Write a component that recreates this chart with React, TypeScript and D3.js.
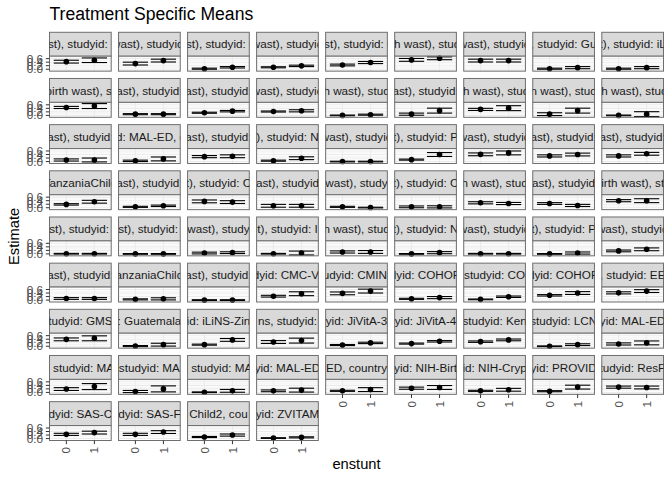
import * as d3 from 'd3';

// facet strip labels (what is visible inside each clipped strip)
const stripLabels = [
  'ast), studyid: C', 'wast), studyid:', 'ast), studyid: C', 'wast), studyid', 'ast), studyid: C', 'th wast), stud', 'wast), studyid', ', studyid: Gu', 't), studyid: iL',
  'birth wast), st', 'ast), studyid: ', 'ast), studyid: ', 'wast), studyid', 'h wast), stud', 'ast), studyid: ', 'th wast), stud', 'n wast), stud', 'th wast), stud',
  'ast), studyid: ', 'id: MAL-ED, c', 'ast), studyid: ', '), studyid: N', 'wast), studyid', 't), studyid: P', 'wast), studyid', 'ast), studyid:', 'ast), studyid:',
  'TanzaniaChild', 'ast), studyid: ', 't), studyid: C', 'ast), studyid', 'wast), study', 't), studyid: C', 'h wast), stud', 'ast), studyid', 'irth wast), st',
  'ast), studyid: J', 'ast), studyid: J', 'wast), study', 't), studyid: I', 'n wast), stud', 't), studyid: N', 'wast), studyid', 't), studyid: P', 'wast), studyid',
  'ast), studyid:', 'anzaniaChild', 'ast), studyid: ', 'dyid: CMC-V-', 'udyid: CMIN,', 'dyid: COHOR', 'studyid: CO', 'dyid: COHOR', ', studyid: EE',
  'tudyid: GMS', ': Guatemala', 'id: iLiNS-Zin', 'ns, studyid:', 'yid: JiVitA-3', 'yid: JiVitA-4', 'studyid: Ken', 'studyid: LCN', 'yid: MAL-ED',
  ', studyid: MA', 'studyid: MA', ', studyid: MA', 'yid: MAL-ED', 'ED, country', 'yid: NIH-Birt', 'id: NIH-Cryp', 'yid: PROVID', 'tudyid: ResP',
  'dyid: SAS-C', 'dyid: SAS-F', 'Child2, cou', 'yid: ZVITAM',
];

const levels = ['0', '1'];

// estimates for enstunt = 0
const est0 = [
  0.43, 0.32, 0.03, 0.11, 0.24, 0.53, 0.49, 0.03, 0.03,
  0.45, 0.07, 0.15, 0.22, 0.0, 0.07, 0.34, 0.07, 0.0,
  0.09, 0.04, 0.28, 0.05, 0.0, 0.11, 0.41, 0.32, 0.32,
  0.19, 0.05, 0.36, 0.11, 0.05, 0.05, 0.28, 0.24, 0.4,
  0.01, 0.0, 0.05, 0.01, 0.11, 0.0, 0.01, 0.0, 0.17,
  0.09, 0.04, 0.0, 0.22, 0.38, 0.07, 0.04, 0.27, 0.41,
  0.39, 0.01, 0.09, 0.24, 0.07, 0.15, 0.26, 0.0, 0.13,
  0.19, 0.05, 0.01, 0.09, 0.09, 0.24, 0.09, 0.07, 0.3,
  0.24, 0.24, 0.09, 0.03,
];
// estimates for enstunt = 1
const est1 = [
  0.51, 0.49, 0.11, 0.19, 0.38, 0.62, 0.49, 0.09, 0.09,
  0.53, 0.07, 0.24, 0.26, 0.04, 0.27, 0.41, 0.27, 0.07,
  0.09, 0.15, 0.3, 0.19, 0.0, 0.4, 0.49, 0.4, 0.44,
  0.34, 0.11, 0.32, 0.11, 0.01, 0.05, 0.24, 0.13, 0.4,
  0.01, 0.0, 0.07, 0.05, 0.11, 0.07, 0.01, 0.05, 0.26,
  0.09, 0.07, 0.0, 0.36, 0.51, 0.14, 0.19, 0.4, 0.51,
  0.45, 0.09, 0.36, 0.32, 0.19, 0.28, 0.36, 0.09, 0.19,
  0.33, 0.2, 0.09, 0.13, 0.16, 0.28, 0.15, 0.3, 0.28,
  0.34, 0.37, 0.2, 0.07,
];
// CI half widths
const half0 = [
  0.08, 0.08, 0.03, 0.03, 0.05, 0.08, 0.08, 0.03, 0.03,
  0.06, 0.03, 0.03, 0.03, 0.02, 0.06, 0.06, 0.08, 0.02,
  0.06, 0.04, 0.06, 0.03, 0.02, 0.03, 0.08, 0.06, 0.06,
  0.04, 0.03, 0.08, 0.08, 0.03, 0.05, 0.06, 0.05, 0.06,
  0.02, 0.02, 0.05, 0.02, 0.06, 0.02, 0.02, 0.02, 0.05,
  0.05, 0.03, 0.02, 0.05, 0.08, 0.03, 0.02, 0.04, 0.06,
  0.08, 0.03, 0.03, 0.08, 0.03, 0.03, 0.04, 0.02, 0.06,
  0.08, 0.06, 0.02, 0.05, 0.03, 0.06, 0.03, 0.03, 0.06,
  0.06, 0.06, 0.03, 0.02,
];
const half1 = [
  0.13, 0.08, 0.04, 0.04, 0.06, 0.08, 0.08, 0.06, 0.06,
  0.14, 0.03, 0.04, 0.06, 0.03, 0.14, 0.14, 0.14, 0.14,
  0.11, 0.11, 0.08, 0.08, 0.02, 0.11, 0.11, 0.08, 0.08,
  0.08, 0.04, 0.08, 0.08, 0.02, 0.06, 0.06, 0.06, 0.11,
  0.02, 0.02, 0.05, 0.11, 0.08, 0.06, 0.02, 0.06, 0.08,
  0.05, 0.06, 0.02, 0.11, 0.11, 0.06, 0.04, 0.08, 0.08,
  0.14, 0.08, 0.08, 0.14, 0.04, 0.04, 0.05, 0.05, 0.11,
  0.17, 0.17, 0.08, 0.11, 0.11, 0.11, 0.08, 0.11, 0.08,
  0.08, 0.08, 0.06, 0.03,
];

const yTicks = [0, 0.2, 0.4, 0.6];

const W = 672;
const H = 480;
const FONT = '"Liberation Sans", Arial, Helvetica, sans-serif';
const nCol = 9;
const left = 49.5;
const right = 663.5;
const top = 32.3;
const bottom = 440.5;
const gap = 7.33;
const stripH = 23.9;

export default function App() {
  const n = stripLabels.length;
  const nRow = Math.ceil(n / nCol);
  const panelW = (right - left - gap * (nCol - 1)) / nCol;
  const cellH = (bottom - top - gap * (nRow - 1)) / nRow;
  const panelH = cellH - stripH;

  const rows = d3.range(n).map((i) => [
    { lv: 0, est: est0[i], lo: est0[i] - half0[i], hi: est0[i] + half0[i] },
    { lv: 1, est: est1[i], lo: est1[i] - half1[i], hi: est1[i] + half1[i] },
  ]);
  const all = rows.flat();
  const lo = d3.min(all, (d) => d.lo) ?? 0;
  const hi = d3.max(all, (d) => d.hi) ?? 1;
  const pad = (hi - lo) * 0.05;

  const x = d3.scaleLinear().domain([-0.6, levels.length - 1 + 0.6]).range([0, panelW]);
  const y = d3.scaleLinear().domain([lo - pad, hi + pad]).range([panelH, 0]);
  const minor = d3.range(-0.1, 0.8, 0.2).filter((v) => v > y.domain()[0] && v < y.domain()[1]);
  const capHalf = 0.45;

  return (
    <svg width={W} height={H} style={{ position: 'absolute', left: 0, top: 0, background: '#fff' }} fontFamily={FONT}>
      <text x={left} y={20} fontSize={17.6} fill="#000">
        Treatment Specific Means
      </text>
      <text
        transform={`translate(19,${(top + bottom) / 2}) rotate(-90)`}
        textAnchor="middle"
        fontSize={14.7}
        fill="#000"
      >
        Estimate
      </text>
      <text x={(left + right) / 2} y={469} textAnchor="middle" fontSize={14.7} fill="#000">
        enstunt
      </text>
      <defs>
        {stripLabels.map((_, i) => (
          <clipPath id={`strip-${i}`} key={i}>
            <rect x={0} y={0} width={panelW} height={stripH} />
          </clipPath>
        ))}
      </defs>
      {rows.map((pts, i) => {
        const c = i % nCol;
        const r = Math.floor(i / nCol);
        const px = left + c * (panelW + gap);
        const py = top + r * (cellH + gap);
        const isBottom = i + nCol >= n;
        return (
          <g key={i} transform={`translate(${px},${py})`}>
            {/* strip */}
            <rect x={0} y={0} width={panelW} height={stripH} fill="#D9D9D9" stroke="#6e6e6e" strokeWidth={1} />
            <g clipPath={`url(#strip-${i})`}>
              <text x={panelW / 2} y={stripH / 2} dy="0.35em" textAnchor="middle" fontSize={11.7} fill="#1A1A1A">
                {stripLabels[i]}
              </text>
            </g>
            <g transform={`translate(0,${stripH})`}>
              <rect x={0} y={0} width={panelW} height={panelH} fill="#fff" />
              {minor.map((v) => (
                <line key={`m${v}`} x1={0} x2={panelW} y1={y(v)} y2={y(v)} stroke="#EBEBEB" strokeWidth={0.55} />
              ))}
              {yTicks.map((v) => (
                <line key={`g${v}`} x1={0} x2={panelW} y1={y(v)} y2={y(v)} stroke="#EBEBEB" strokeWidth={1.07} />
              ))}
              {levels.map((_, k) => (
                <line key={`v${k}`} x1={x(k)} x2={x(k)} y1={0} y2={panelH} stroke="#EBEBEB" strokeWidth={1.07} />
              ))}
              {pts.map((d) => (
                <g key={d.lv} stroke="#000" strokeWidth={1.1}>
                  <line x1={x(d.lv)} x2={x(d.lv)} y1={y(d.lo)} y2={y(d.hi)} />
                  <line x1={x(d.lv - capHalf)} x2={x(d.lv + capHalf)} y1={y(d.lo)} y2={y(d.lo)} />
                  <line x1={x(d.lv - capHalf)} x2={x(d.lv + capHalf)} y1={y(d.hi)} y2={y(d.hi)} />
                  <circle cx={x(d.lv)} cy={y(d.est)} r={2.8} fill="#000" stroke="none" />
                </g>
              ))}
              <rect x={0} y={0} width={panelW} height={panelH} fill="none" stroke="#6e6e6e" strokeWidth={1} />
              {c === 0 &&
                yTicks.map((v) => (
                  <g key={`yt${v}`}>
                    <line x1={-3.67} x2={0} y1={y(v)} y2={y(v)} stroke="#333" strokeWidth={1} />
                    <text x={-6.6} y={y(v)} dy="0.35em" textAnchor="end" fontSize={11.7} fill="#4D4D4D">
                      {v.toFixed(1)}
                    </text>
                  </g>
                ))}
              {isBottom &&
                levels.map((lab, k) => (
                  <g key={`xt${k}`}>
                    <line x1={x(k)} x2={x(k)} y1={panelH} y2={panelH + 3.67} stroke="#333" strokeWidth={1} />
                    <text
                      transform={`translate(${x(k)},${panelH + 6.6}) rotate(-90)`}
                      dy="0.35em"
                      textAnchor="end"
                      fontSize={11.7}
                      fill="#4D4D4D"
                    >
                      {lab}
                    </text>
                  </g>
                ))}
            </g>
          </g>
        );
      })}
    </svg>
  );
}
